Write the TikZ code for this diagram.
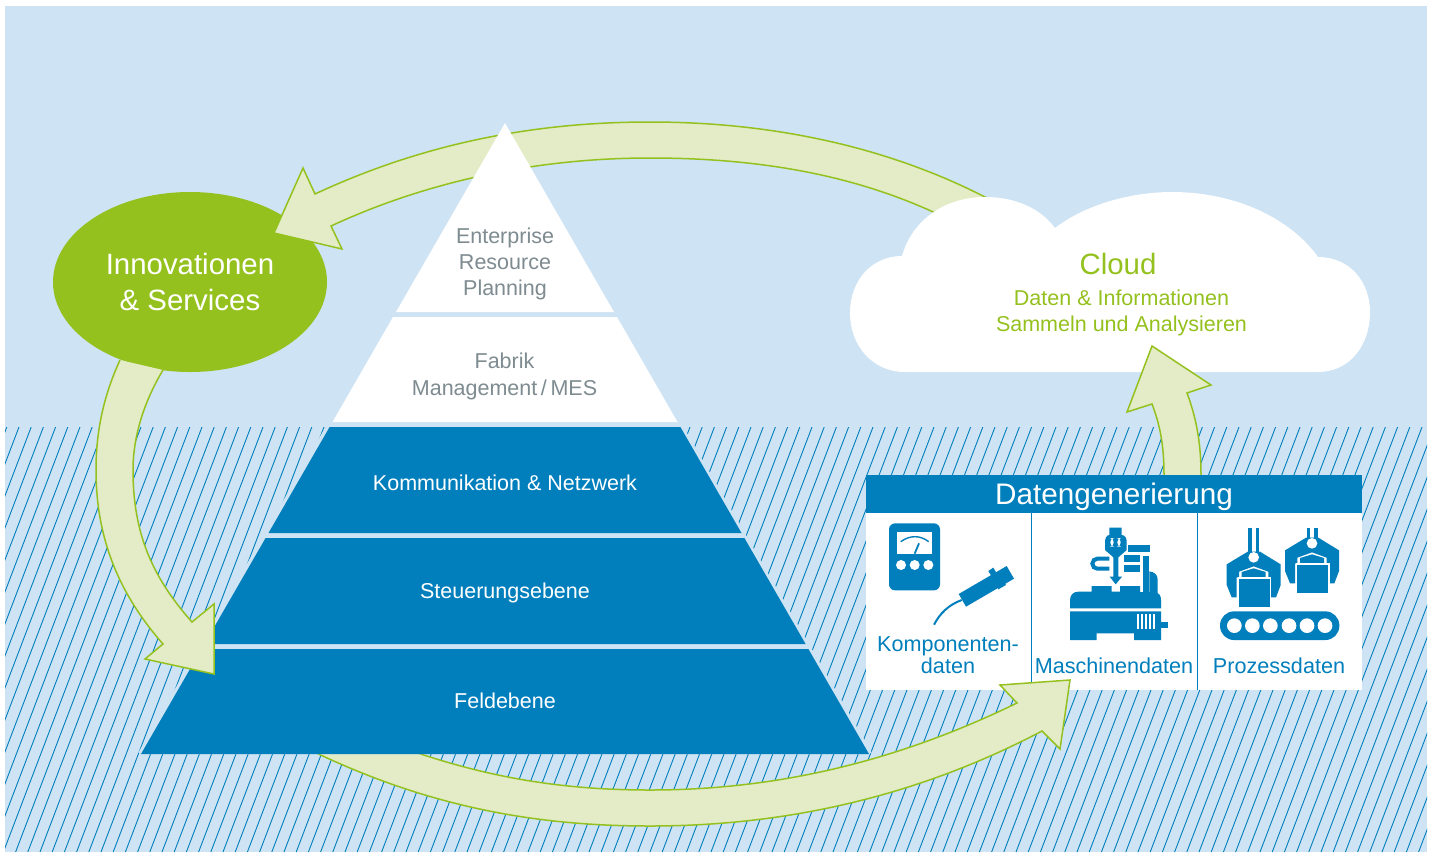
\documentclass[tikz,border=0pt]{standalone}
\usepackage{fontspec}
\setmainfont{Liberation Sans}
\usetikzlibrary{shapes.geometric}
\definecolor{skyc}{HTML}{CEE3F3}
\definecolor{bluec}{HTML}{007FBC}
\definecolor{greenc}{HTML}{95C11F}
\definecolor{arrowc}{HTML}{E3ECC6}
\definecolor{greyc}{HTML}{7E8B90}
\tikzset{
  lbl/.style={inner sep=0pt,align=center,font=\fontsize{10.75}{13}\selectfont},
  big/.style={inner sep=0pt,align=center,font=\fontsize{14.7}{18}\selectfont},
  icon/.style={fill=bluec,draw=none},
  hole/.style={fill=white,draw=none},
  arrowfill/.style={fill=arrowc,draw=none},
  arrowline/.style={draw=greenc,line width=0.75pt,line join=miter},
  layerw/.style={fill=white,draw=none},
  layerb/.style={fill=bluec,draw=none}
}
\newcommand{\grippershape}{%
  \fill[icon] (1100,283) -- (1163,245) -- (1200,245) -- (1262,283) -- (1262,345) -- (1248,382) -- (1232,382) -- (1232,322) -- (1225,322) -- (1225,305) -- (1181,289) -- (1137,305) -- (1137,322) -- (1130,322) -- (1130,382) -- (1115,382) -- (1100,345) -- cycle;
  \fill[icon] (1145,322) -- (1145,306) -- (1181,295) -- (1217,306) -- (1217,322) -- cycle;
  \fill[hole] (1181,262) circle[radius=16];
  \fill[hole] (1133,322) rectangle (1234,413);
  \fill[icon] (1137,328) rectangle (1230,410);
}
\begin{document}
\begin{tikzpicture}[x=0.5pt,y=-0.5pt]
\useasboundingbox (0,0) rectangle (1434,852);
\fill[white] (0,0) rectangle (1434,852);
\fill[skyc] (5,6) rectangle (1427,852);
% hatching
\begin{scope}
\clip (5,427) rectangle (1427,852);
\foreach \k in {-2,...,130}{
  \draw[bluec,line width=0.45pt] ({19+12.2*\k},427) -- ({19+12.2*\k-162},852);
}
\end{scope}
% ellipse
\node (innov) [ellipse,fill=greenc,text=white,minimum width=137pt,minimum height=90pt,inner sep=0pt,align=center,font=\fontsize{14.7}{18}\selectfont] at (190,282) {Innovationen\\\& Services};
% datengenerierung box
\fill[white] (866,475) rectangle (1362,690);
\draw[bluec,line width=0.45pt] (1031,513) -- (1031,690) (1197,513) -- (1197,690);
\fill[bluec] (866,475) rectangle (1362,513);
\node (dg) [big,text=white,font=\fontsize{14.85}{18}\selectfont] at (1114,497) {Datengenerierung};
% bottom arrow (under pyramid)
\draw[arrowfill,arrowline] (300,745) .. controls (420,805) and (530,826) .. (650,826) .. controls (800,826) and (930,790) .. (1042,731) -- (1060,749) -- (1070,680) -- (1000,685) -- (1017,703) .. controls (900,760) and (780,790) .. (650,790) .. controls (570,790) and (490,780) .. (395,745) -- cycle;
% top arrow
\draw[arrowfill,arrowline] (1000,205) .. controls (900,150) and (780,122) .. (650,122) .. controls (530,122) and (420,145) .. (315,194) -- (303,168) -- (274,233) -- (342,249) -- (331,226) .. controls (430,180) and (540,158) .. (650,158) .. controls (760,158) and (860,175) .. (950,220) -- cycle;
% pyramid
\draw[skyc,line width=3pt] (329,427) -- (141,754) (680,427) -- (869,754);
\fill[skyc] (332,422) -- (678,422) -- (869,754) -- (141,754) -- cycle;
\fill[skyc] (396,312) -- (614,312) -- (617,317) -- (393,317) -- cycle;
\fill[layerw] (505,123) -- (614,312) -- (396,312) -- cycle;
\fill[layerw] (393,317) -- (617,317) -- (677.5,422) -- (332.5,422) -- cycle;
\fill[layerb] (329.6,427) -- (680.4,427) -- (741.5,533) -- (268.5,533) -- cycle;
\fill[layerb] (265.6,538) -- (744.4,538) -- (805.6,644) -- (204.4,644) -- cycle;
\fill[layerb] (201.6,649) -- (808.4,649) -- (869,754) -- (141,754) -- cycle;
\node (erp) [lbl,text=greyc] at (505,264) {Enterprise\\Resource\\Planning};
\node (mes) [lbl,text=greyc] at (504.5,376) {Fabrik\\[0.5pt]Management\,/\,MES};
\node (komm) [lbl,text=white] at (505,483) {Kommunikation \& Netzwerk};
\node (steu) [lbl,text=white] at (505,593) {Steuerungsebene};
\node (feld) [lbl,text=white] at (505,701) {Feldebene};
% left arrow
\path[arrowfill] (120,360) .. controls (104,395) and (96,430) .. (96,470) .. controls (96,540) and (120,595) .. (163,644) -- (145,659) -- (214,674) -- (214,604) -- (192,622) .. controls (150,575) and (133,530) .. (133,470) .. controls (133,435) and (145,400) .. (163,370) -- cycle;
\draw[arrowline] (120,360) .. controls (104,395) and (96,430) .. (96,470) .. controls (96,540) and (120,595) .. (163,644) -- (145,659) -- (214,674) -- (214,604) -- (192,622) .. controls (150,575) and (133,530) .. (133,470) .. controls (133,435) and (145,400) .. (163,370);
% cloud
\fill[white] (905,372) .. controls (872,372) and (850,345) .. (850,313) .. controls (850,280) and (872,256) .. (902,256) .. controls (912,220) and (945,197) .. (985,197) .. controls (1015,197) and (1040,208) .. (1055,228) .. controls (1085,205) and (1130,192) .. (1172,192) .. controls (1235,192) and (1290,218) .. (1318,257) .. controls (1350,257) and (1370,282) .. (1370,312) .. controls (1370,345) and (1350,372) .. (1318,372) -- cycle;
\node (cloud) [big,text=greenc] at (1118,264) {Cloud};
\node (cloudsub) [lbl,text=greenc] at (1121.5,313) {Daten \& Informationen\\Sammeln und Analysieren};
% up arrow
\draw[arrowfill,arrowline] (1201,475) .. controls (1201,445) and (1197,420) .. (1187,393) -- (1211,385) -- (1152,346) -- (1127,412) -- (1152,404) .. controls (1160,425) and (1164,445) .. (1164,475);
\fill[bluec] (1150,475) rectangle (1215,480);
% icon labels
\node (komp) [lbl,text=bluec,font=\fontsize{10.8}{11}\selectfont] at (948,655) {Komponenten-\\daten};
\node (masch) [lbl,text=bluec,font=\fontsize{10.8}{11}\selectfont] at (1114,666) {Maschinendaten};
\node (proz) [lbl,text=bluec,font=\fontsize{10.8}{11}\selectfont] at (1279,666) {Prozessdaten};
% icons (coordinates of 3x crop)
\begin{scope}[shift={(860,470)},x=0.16667pt,y=-0.16667pt]
% meter
\fill[icon,rounded corners=3pt] (87,160) rectangle (240,361);
\fill[hole] (111,186) rectangle (216,251);
\draw[bluec,line width=0.7pt] (122,215) .. controls (150,195) and (180,195) .. (206,215);
\draw[bluec,line width=0.9pt] (164,251) -- (177,220);
\foreach \cx in {123,164,205}{\fill[hole] (\cx,285) circle[radius=15];}
% probe
\fill[icon] (296,372) -- (440,288) -- (462,326) -- (318,410) -- cycle;
\fill[icon] (385,303) -- (400,293) -- (410,310) -- (395,320) -- cycle;
\fill[icon] (415,358) -- (438,345) -- (428,330) -- (408,342) -- cycle;
\draw[bluec,line width=1pt] (305,390) .. controls (265,405) and (240,430) .. (222,464);
% machine
\fill[icon] (748,173) -- (785,173) -- (785,195) .. controls (795,195) and (800,205) .. (800,215) -- (800,240) -- (775,262) -- (775,320) -- (786,320) -- (767,343) -- (749,320) -- (760,320) -- (760,262) -- (735,240) -- (735,215) .. controls (735,205) and (740,195) .. (748,195) -- cycle;
\fill[hole,rounded corners=2pt] (751,204) rectangle (761,230);
\fill[hole,rounded corners=2pt] (772,204) rectangle (782,230);
\draw[bluec,line width=2pt] (748,266) -- (712,266) arc[start angle=270,end angle=90,radius=15] -- (748,296);
\fill[icon] (805,225) rectangle (870,245);
\fill[icon] (792,255) rectangle (840,275);
\fill[icon] (792,285) rectangle (840,305);
\fill[icon] (848,258) rectangle (868,366);
\fill[icon] (868,304) .. controls (885,306) and (893,315) .. (893,330) -- (893,380) -- (868,380) -- cycle;
\fill[icon] (630,415) -- (630,390) .. controls (630,375) and (640,365) .. (655,365) -- (695,365) -- (695,348) -- (755,348) -- (755,365) -- (780,365) -- (780,348) -- (840,348) -- (840,366) -- (885,366) .. controls (897,370) and (903,375) .. (903,390) -- (903,415) -- cycle;
\fill[icon] (630,424) -- (903,424) -- (903,510) -- (822,510) -- (822,490) -- (710,490) -- (710,510) -- (630,510) -- cycle;
\fill[icon] (903,457) rectangle (923,473);
\foreach \bx in {832,844,856,868,880}{\fill[hole] (\bx,433) rectangle (\bx+5,478);}
% grippers
\fill[icon] (1165,175) rectangle (1175,250);
\fill[icon] (1188,175) rectangle (1198,250);
\grippershape
\begin{scope}[shift={(175,-42)}]
\fill[icon] (1165,217) rectangle (1175,250);
\fill[icon] (1188,217) rectangle (1198,250);
\grippershape
\end{scope}
% conveyor
\fill[icon,rounded corners=7pt] (1080,424) rectangle (1438,510);
\foreach \cx in {1123,1177,1231,1287,1341,1395}{\fill[hole] (\cx,467) circle[radius=22];}
\end{scope}
\end{tikzpicture}
\end{document}
